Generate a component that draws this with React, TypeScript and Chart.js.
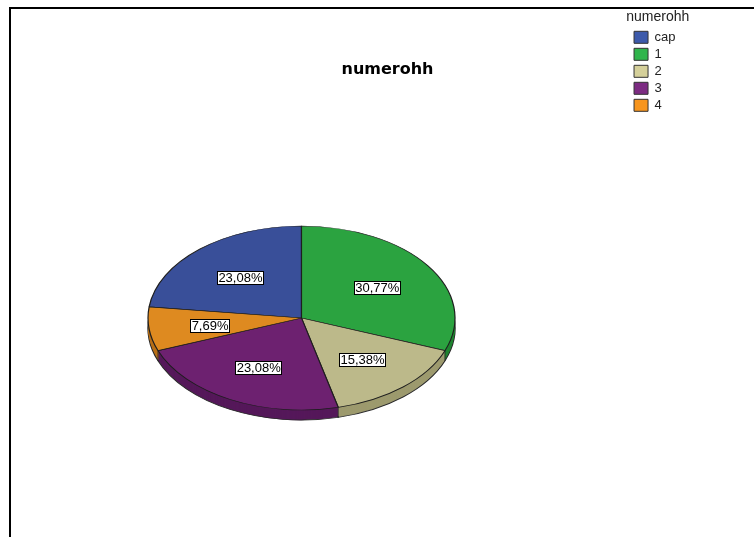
import React, { useEffect, useRef } from "react";
import { Chart, registerables } from "chart.js";

Chart.register(...registerables);

const categories = ["cap", "1", "2", "3", "4"];
const counts = [3, 4, 2, 3, 1];
const sliceColors = ["#394f99", "#2ba340", "#bcb98a", "#6d2170", "#de8a20"];
const sideColors = ["#2a3b75", "#1f8430", "#9d9a6e", "#55185a", "#b86f17"];
const legendColors = ["#3d5aab", "#30b54c", "#d5d09a", "#7c2b82", "#f7951e"];
const chartTitle = "numerohh";
const legendTitle = "numerohh";

const total = counts.reduce((a, b) => a + b, 0);
const pctText = (v: number) => ((v / total) * 100).toFixed(2).replace(".", ",") + "%";

// layout of the tilted pie
const CX = 301.5;
const CY = 318;
const RX = 153.5;
const RY = 92;
const DEPTH = 10;
const LABEL_R = 0.6;

const pie3d = {
  id: "pie3d",
  afterLayout(chart: any) {
    // let the legend title overflow the (narrow) legend box instead of being clipped
    const lg = chart.legend;
    if (lg && typeof lg._draw === "function" && !lg.__noclip) {
      lg.__noclip = true;
      lg.draw = function () {
        if (this.options.display) this._draw();
      };
    }
  },
  beforeDatasetsDraw(chart: any) {
    const ctx: CanvasRenderingContext2D = chart.ctx;
    const arcs = chart.getDatasetMeta(0).data;
    if (!arcs.length) return;
    const p = arcs[0].getProps(["x", "y", "outerRadius"], true);
    const sx = RX / p.outerRadius;
    const sy = RY / p.outerRadius;
    const apply = () => {
      ctx.translate(CX, CY);
      ctx.scale(sx, sy);
      ctx.translate(-p.x, -p.y);
    };
    for (let d = DEPTH; d >= 1; d--) {
      ctx.save();
      ctx.translate(0, d);
      apply();
      arcs.forEach((arc: any, i: number) => {
        const orig = arc.options;
        arc.options = {
          ...orig,
          backgroundColor: sideColors[i],
          borderColor: "#2a2a2a",
          borderWidth: d === DEPTH ? 1.4 : 0,
        };
        arc.draw(ctx);
        arc.options = orig;
      });
      ctx.restore();
    }
    // seams on the side between slices
    ctx.save();
    ctx.strokeStyle = "#2a2a2a";
    ctx.lineWidth = 0.8;
    arcs.forEach((arc: any) => {
      const a = arc.getProps(["startAngle"], true).startAngle;
      if (Math.sin(a) > 0.02) {
        const x = CX + Math.cos(a) * RX;
        const y = CY + Math.sin(a) * RY;
        ctx.beginPath();
        ctx.moveTo(x, y);
        ctx.lineTo(x, y + DEPTH);
        ctx.stroke();
      }
    });
    ctx.restore();
    ctx.save();
    apply();
  },
  afterDatasetsDraw(chart: any) {
    const ctx: CanvasRenderingContext2D = chart.ctx;
    const arcs = chart.getDatasetMeta(0).data;
    if (!arcs.length) return;
    ctx.restore();
    ctx.save();
    ctx.font = "13px 'Liberation Sans', Arial, sans-serif";
    ctx.textAlign = "center";
    ctx.textBaseline = "middle";
    arcs.forEach((arc: any, i: number) => {
      const { startAngle, endAngle } = arc.getProps(["startAngle", "endAngle"], true);
      const mid = (startAngle + endAngle) / 2;
      const x = CX + Math.cos(mid) * RX * LABEL_R;
      const y = CY + Math.sin(mid) * RY * LABEL_R + 1;
      const text = pctText(counts[i]);
      const w = ctx.measureText(text).width + 3;
      const h = 14;
      ctx.fillStyle = "#ffffff";
      ctx.fillRect(Math.round(x - w / 2), Math.round(y - h / 2), Math.round(w), h);
      ctx.strokeStyle = "#000000";
      ctx.lineWidth = 1;
      ctx.strokeRect(Math.round(x - w / 2) + 0.5, Math.round(y - h / 2) + 0.5, Math.round(w) - 1, h - 1);
      ctx.fillStyle = "#000000";
      ctx.fillText(text, x, y + 0.5);
    });
    ctx.restore();
  },
};

export default function App() {
  const ref = useRef<HTMLCanvasElement | null>(null);
  useEffect(() => {
    if (!ref.current) return;
    const chart = new Chart(ref.current, {
      type: "pie",
      data: {
        labels: categories,
        datasets: [
          {
            data: counts,
            backgroundColor: sliceColors,
            borderColor: "#1e1e1e",
            borderWidth: 1.2,
            radius: RX,
            clip: false,
          } as any,
        ],
      },
      options: {
        responsive: false,
        animation: false,
        events: [],
        rotation: (-360 * counts[0]) / total,
        layout: { padding: { top: 4, left: 89.5, right: 68.5, bottom: 0 } },
        plugins: {
          title: {
            display: true,
            text: chartTitle,
            color: "#000",
            font: { family: "'DejaVu Sans', sans-serif", size: 16, weight: "bold" },
            padding: { top: 56, bottom: 10 },
          },
          legend: {
            position: "right",
            align: "start",
            title: {
              display: true,
              text: legendTitle,
              color: "#222",
              font: { family: "'Liberation Sans', Arial, sans-serif", size: 14 },
              padding: { top: 6, bottom: 0 },
            },
            labels: {
              boxWidth: 14,
              boxHeight: 12,
              padding: 4,
              color: "#222",
              font: { family: "'Liberation Sans', Arial, sans-serif", size: 13 },
              generateLabels: () =>
                categories.map((c, i) => ({
                  text: c,
                  fillStyle: legendColors[i],
                  strokeStyle: "#333",
                  lineWidth: 1,
                  hidden: false,
                  index: i,
                  fontColor: "#222",
                })),
            },
          },
          tooltip: { enabled: false },
        },
      } as any,
      plugins: [pie3d],
    });
    return () => chart.destroy();
  }, []);

  return (
    <div>
      <div
        style={{
          position: "fixed",
          left: 9,
          top: 7,
          right: 0,
          bottom: 0,
          borderTop: "2px solid #000",
          borderLeft: "2px solid #000",
        }}
      />
      <canvas
        ref={ref}
        width={754}
        height={537}
        style={{ position: "fixed", left: 0, top: 0, width: 754, height: 537 }}
      />
    </div>
  );
}
